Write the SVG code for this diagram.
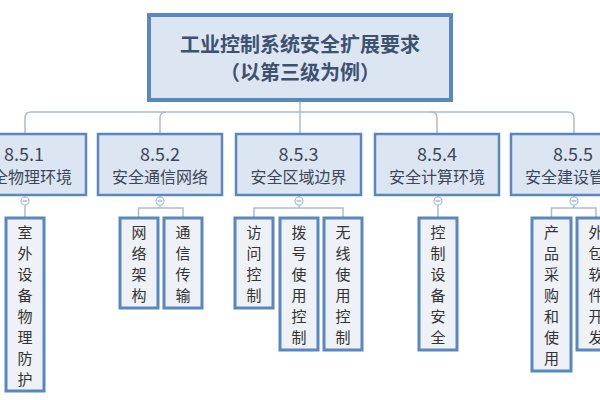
<svg xmlns="http://www.w3.org/2000/svg" width="600" height="400" viewBox="0 0 600 400">
<style>
text{font-family:"Noto Sans CJK SC","Liberation Sans",sans-serif;text-anchor:middle}
.title{font-size:20px;font-weight:bold;fill:#3e5270}
.l2{fill:#dce6f2;stroke:#5b87c0;stroke-width:2.5}
.l2t{font-size:16px;fill:#3c4658}
.num{font-size:18px;fill:#3c4658}
.leaf{fill:#eef1f6;stroke:#5b87c0;stroke-width:3}
.lt{font-size:15px;fill:#333}
.c{fill:none;stroke:#a9bccf;stroke-width:1.5}
.k{fill:#fff;stroke:#a9bccf;stroke-width:1.2}
</style>
<rect width="600" height="400" fill="#fff"/>
<g id="connectors">
<path class="c" d="M300,101 V134"/>
<path class="c" d="M25,134 V118 Q25,112 31,112 H568 Q574,112 574,118 V134"/>
<path class="c" d="M166,112 Q160,112 160,118 V134"/>
<path class="c" d="M431,112 Q437,112 437,118 V134"/>
<path class="c" d="M25,195 V217"/>
<path class="c" d="M160,195 V208 M138.5,217 V208 H183 V217"/>
<path class="c" d="M299,195 V208 M254,217 V208 H343 V217"/>
<path class="c" d="M438,195 V217"/>
<path class="c" d="M574,195 V208 M551.5,217 V208 H596 V217"/>
<g><circle class="k" cx="25" cy="201" r="4"/><path class="c" d="M22.5,201 H27.5"/></g>
<g><circle class="k" cx="160" cy="201" r="4"/><path class="c" d="M157.5,201 H162.5"/></g>
<g><circle class="k" cx="299" cy="201" r="4"/><path class="c" d="M296.5,201 H301.5"/></g>
<g><circle class="k" cx="438" cy="201" r="4"/><path class="c" d="M435.5,201 H440.5"/></g>
<g><circle class="k" cx="574" cy="201" r="4"/><path class="c" d="M571.5,201 H576.5"/></g>
</g>
<g id="root">
<rect x="149" y="15" width="302" height="85" fill="#dce6f2" stroke="#5b87c0" stroke-width="4"/>
<text class="title" x="300" y="52">工业控制系统安全扩展要求</text>
<text class="title" x="300" y="80">（以第三级为例）</text>
</g>
<g id="n851">
<rect class="l2" x="-37" y="134" width="123" height="61"/>
<text class="num" x="24" y="161">8.5.1</text>
<text class="l2t" x="24" y="183">安全物理环境</text>
</g>
<g id="n852">
<rect class="l2" x="98" y="134" width="124" height="61"/>
<text class="num" x="160" y="161">8.5.2</text>
<text class="l2t" x="160" y="183">安全通信网络</text>
</g>
<g id="n853">
<rect class="l2" x="236" y="134" width="125" height="61"/>
<text class="num" x="298.5" y="161">8.5.3</text>
<text class="l2t" x="298.5" y="183">安全区域边界</text>
</g>
<g id="n854">
<rect class="l2" x="375" y="134" width="124" height="61"/>
<text class="num" x="437" y="161">8.5.4</text>
<text class="l2t" x="437" y="183">安全计算环境</text>
</g>
<g id="n855">
<rect class="l2" x="511" y="134" width="124" height="61"/>
<text class="num" x="573" y="161">8.5.5</text>
<text class="l2t" x="573" y="183">安全建设管理</text>
</g>
<g id="leaf1">
<rect class="leaf" x="6" y="218" width="38" height="173"/>
<text class="lt" x="25" y="238">室</text><text class="lt" x="25" y="259">外</text><text class="lt" x="25" y="280">设</text><text class="lt" x="25" y="301">备</text><text class="lt" x="25" y="322">物</text><text class="lt" x="25" y="343">理</text><text class="lt" x="25" y="364">防</text><text class="lt" x="25" y="385">护</text>
</g>
<g id="leaf2a">
<rect class="leaf" x="120" y="218" width="38" height="90"/>
<text class="lt" x="139" y="238">网</text><text class="lt" x="139" y="259">络</text><text class="lt" x="139" y="280">架</text><text class="lt" x="139" y="301">构</text>
</g>
<g id="leaf2b">
<rect class="leaf" x="164" y="218" width="38" height="90"/>
<text class="lt" x="183" y="238">通</text><text class="lt" x="183" y="259">信</text><text class="lt" x="183" y="280">传</text><text class="lt" x="183" y="301">输</text>
</g>
<g id="leaf3a">
<rect class="leaf" x="235" y="218" width="38" height="90"/>
<text class="lt" x="254" y="238">访</text><text class="lt" x="254" y="259">问</text><text class="lt" x="254" y="280">控</text><text class="lt" x="254" y="301">制</text>
</g>
<g id="leaf3b">
<rect class="leaf" x="280" y="218" width="38" height="132"/>
<text class="lt" x="299" y="238">拨</text><text class="lt" x="299" y="259">号</text><text class="lt" x="299" y="280">使</text><text class="lt" x="299" y="301">用</text><text class="lt" x="299" y="322">控</text><text class="lt" x="299" y="343">制</text>
</g>
<g id="leaf3c">
<rect class="leaf" x="324" y="218" width="38" height="132"/>
<text class="lt" x="343" y="238">无</text><text class="lt" x="343" y="259">线</text><text class="lt" x="343" y="280">使</text><text class="lt" x="343" y="301">用</text><text class="lt" x="343" y="322">控</text><text class="lt" x="343" y="343">制</text>
</g>
<g id="leaf4">
<rect class="leaf" x="419" y="218" width="38" height="132"/>
<text class="lt" x="438" y="238">控</text><text class="lt" x="438" y="259">制</text><text class="lt" x="438" y="280">设</text><text class="lt" x="438" y="301">备</text><text class="lt" x="438" y="322">安</text><text class="lt" x="438" y="343">全</text>
</g>
<g id="leaf5a">
<rect class="leaf" x="532" y="218" width="39" height="153"/>
<text class="lt" x="551.5" y="238">产</text><text class="lt" x="551.5" y="259">品</text><text class="lt" x="551.5" y="280">采</text><text class="lt" x="551.5" y="301">购</text><text class="lt" x="551.5" y="322">和</text><text class="lt" x="551.5" y="343">使</text><text class="lt" x="551.5" y="364">用</text>
</g>
<g id="leaf5b">
<rect class="leaf" x="577" y="218" width="38" height="132"/>
<text class="lt" x="596" y="238">外</text><text class="lt" x="596" y="259">包</text><text class="lt" x="596" y="280">软</text><text class="lt" x="596" y="301">件</text><text class="lt" x="596" y="322">开</text><text class="lt" x="596" y="343">发</text>
</g>
</svg>
